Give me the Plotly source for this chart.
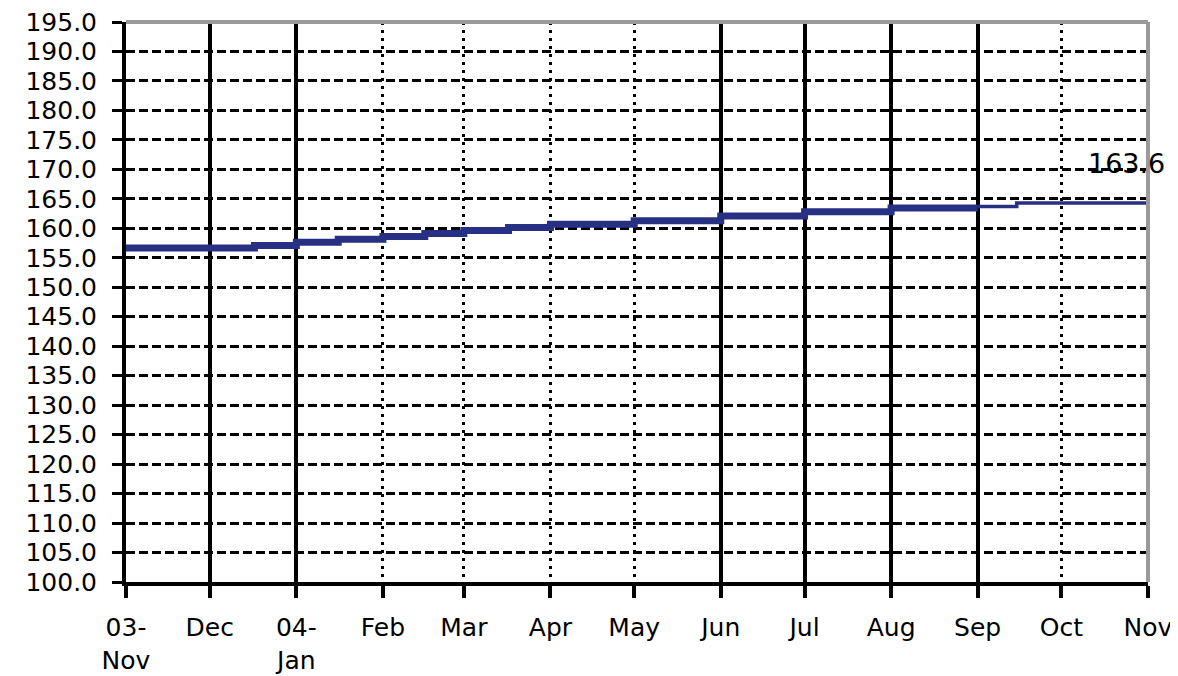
import plotly.graph_objects as go

# ---- data ----
month_dates = ["2003-11-01", "2003-12-01", "2004-01-01", "2004-02-01", "2004-03-01",
               "2004-04-01", "2004-05-01", "2004-06-01", "2004-07-01", "2004-08-01",
               "2004-09-01", "2004-10-01", "2004-11-01"]
month_labels = ["03-<br>Nov", "Dec", "04-<br>Jan", "Feb", "Mar", "Apr", "May", "Jun",
                "Jul", "Aug", "Sep", "Oct", "Nov"]
solid_grid_months = ["2003-12-01", "2004-01-01", "2004-06-01", "2004-07-01",
                     "2004-08-01", "2004-09-01"]
dotted_grid_months = ["2004-02-01", "2004-03-01", "2004-04-01", "2004-05-01", "2004-10-01"]

step_dates = ["2003-11-01", "2003-12-17", "2004-01-01", "2004-01-16", "2004-02-01",
              "2004-02-16", "2004-03-01", "2004-03-17", "2004-04-01", "2004-05-01",
              "2004-06-01", "2004-07-01", "2004-08-01", "2004-09-01", "2004-09-15"]
step_values = [156.65, 157.1, 157.65, 158.15, 158.6,
               159.1, 159.65, 160.15, 160.7, 161.3,
               162.1, 162.8, 163.45, 163.7, 164.3]
thick_count = 13          # steps drawn with the heavy line (through August)
end_date = "2004-11-01"
last_label = "163.6"

y_min, y_max, y_step = 100, 195, 5

# ---- build ----
navy = "#283083"
thick_x = step_dates[:thick_count] + [step_dates[thick_count]]
thick_y = step_values[:thick_count] + [step_values[thick_count - 1]]
thin_x = step_dates[thick_count:] + [end_date]
thin_y = step_values[thick_count:] + [step_values[-1]]

fig = go.Figure()
fig.add_trace(go.Scatter(x=[month_dates[0], month_dates[-1]], y=[None, None],
                         xaxis="x2", yaxis="y", mode="lines", hoverinfo="skip",
                         showlegend=False))
fig.add_trace(go.Scatter(x=thick_x, y=thick_y, mode="lines",
                         line=dict(color=navy, width=7, shape="hv"), showlegend=False))
fig.add_trace(go.Scatter(x=thin_x, y=thin_y, mode="lines",
                         line=dict(color=navy, width=3.5, shape="hv"), showlegend=False))

fig.add_annotation(x=end_date, y=step_values[-1], xref="x", yref="y",
                   text=last_label, showarrow=False, xanchor="right", yanchor="middle",
                   xshift=19, yshift=39, font=dict(size=27, color="black"))

# plot border (top and right, grey)
fig.add_shape(type="line", xref="paper", yref="paper", x0=0, x1=1, y0=1, y1=1,
              line=dict(color="#9a9a9a", width=4), layer="above")
fig.add_shape(type="line", xref="paper", yref="paper", x0=1, x1=1, y0=0, y1=1,
              line=dict(color="#9a9a9a", width=4), layer="above")

fig.update_layout(
    width=1170, height=668,
    margin=dict(l=118, r=30, t=14, b=94, autoexpand=False),
    plot_bgcolor="white", paper_bgcolor="white",
    font=dict(family="DejaVu Sans, Liberation Sans, sans-serif", size=26, color="black"),
    showlegend=False,
    xaxis=dict(type="date", range=[month_dates[0], month_dates[-1]],
               tickmode="array", tickvals=month_dates, ticktext=month_labels,
               ticks="outside", ticklen=12, tickwidth=4, tickcolor="black",
               showline=True, linecolor="black", linewidth=4,
               showgrid=False, zeroline=False, tickangle=0, automargin=False,
               ticklabelstandoff=8, ticklabeloverflow="allow", tickfont=dict(size=25)),
    xaxis2=dict(type="date", overlaying="x", anchor="y",
                range=[month_dates[0], month_dates[-1]],
                tickmode="array", tickvals=solid_grid_months,
                showticklabels=False, ticks="",
                showgrid=True, gridcolor="black", gridwidth=4,
                minor=dict(tickmode="array", tickvals=dotted_grid_months, showgrid=True,
                           gridcolor="black", gridwidth=3, griddash="3px,5px", ticks=""),
                showline=False, zeroline=False, automargin=False),
    yaxis=dict(range=[y_min, y_max], tickmode="linear", tick0=y_min, dtick=y_step,
               tickformat=".1f", ticks="outside", ticklen=10, tickwidth=3,
               tickcolor="black", showline=True, linecolor="black", linewidth=4,
               showgrid=True, gridcolor="black", gridwidth=3, griddash="9px,4px",
               zeroline=False, automargin=False, ticklabelstandoff=10,
               ticklabeloverflow="allow", tickfont=dict(size=25)),
)

fig.write_html("out.html")
